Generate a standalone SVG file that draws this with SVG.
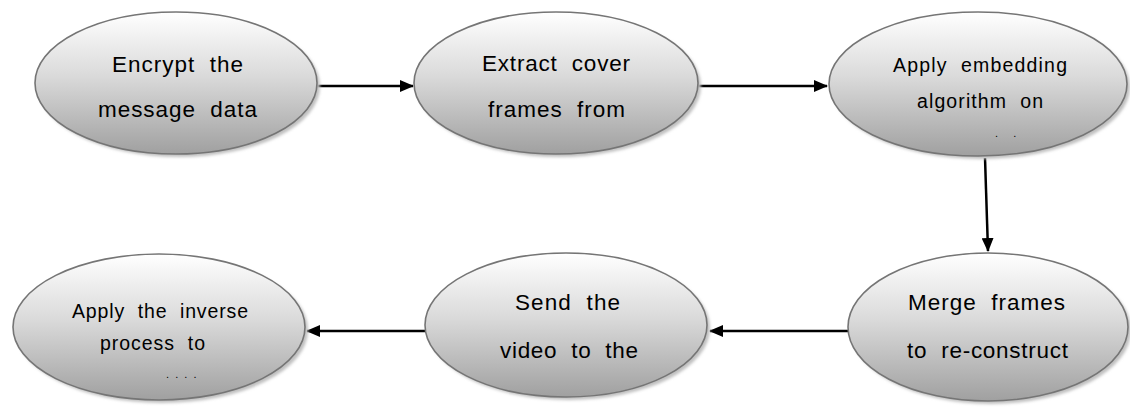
<svg xmlns="http://www.w3.org/2000/svg" width="1130" height="407" viewBox="0 0 1130 407">
  <defs>
    <linearGradient id="fillGrad" x1="0" y1="0" x2="0" y2="1">
      <stop offset="0" stop-color="#ffffff"/>
      <stop offset="0.45" stop-color="#dadada"/>
      <stop offset="1" stop-color="#a0a0a0"/>
    </linearGradient>
    <filter id="soft" x="-10%" y="-10%" width="120%" height="120%">
      <feGaussianBlur stdDeviation="1.5"/>
    </filter>
    <marker id="arrow" viewBox="0 0 14 12" refX="13" refY="6" markerWidth="14" markerHeight="12" markerUnits="userSpaceOnUse" orient="auto">
      <path d="M0,0 L14,6 L0,12 Z" fill="#000"/>
    </marker>
  </defs>
  <style>
    .shadow { fill: #c0c0c0; filter: url(#soft); }
    .shape { fill: url(#fillGrad); stroke: #757575; stroke-width: 1.6; }
    .lbl { font-family: "Liberation Sans", Arial, sans-serif; fill: #000; text-anchor: start; white-space: pre; }
    .big { font-size: 22.5px; }
    .small { font-size: 19.5px; }
    .dots { font-family: "Liberation Sans", Arial, sans-serif; font-size: 11px; fill: #000; white-space: pre; }
    .conn { stroke: #000; stroke-width: 2.5; fill: none; marker-end: url(#arrow); }
  </style>

  <!-- connectors -->
  <g id="connectors">
    <line class="conn" x1="317" y1="86" x2="413" y2="86"/>
    <line class="conn" x1="698" y1="86" x2="827" y2="86"/>
    <line class="conn" x1="985" y1="158" x2="988" y2="251"/>
    <line class="conn" x1="848" y1="331" x2="710" y2="331"/>
    <line class="conn" x1="426" y1="331" x2="307" y2="331"/>
  </g>

  <!-- step 1 -->
  <g id="encrypt">
    <ellipse class="shadow" cx="179" cy="86" rx="141" ry="71"/>
    <ellipse class="shape" cx="176" cy="83" rx="141" ry="71"/>
    <text class="lbl big" x="112" y="72" textLength="131" lengthAdjust="spacing" xml:space="preserve">Encrypt  the</text>
    <text class="lbl big" x="98" y="117" textLength="159" lengthAdjust="spacing" xml:space="preserve">message  data</text>
  </g>

  <!-- step 2 -->
  <g id="extract">
    <ellipse class="shadow" cx="559" cy="86" rx="142" ry="71"/>
    <ellipse class="shape" cx="556" cy="83" rx="142" ry="71"/>
    <text class="lbl big" x="482" y="71" textLength="148" lengthAdjust="spacing" xml:space="preserve">Extract  cover</text>
    <text class="lbl big" x="488" y="117" textLength="137" lengthAdjust="spacing" xml:space="preserve">frames  from</text>
  </g>

  <!-- step 3 -->
  <g id="embed">
    <ellipse class="shadow" cx="981" cy="87" rx="149" ry="72"/>
    <ellipse class="shape" cx="978" cy="84" rx="149" ry="72"/>
    <text class="lbl small" x="893" y="72" textLength="174" lengthAdjust="spacing" xml:space="preserve">Apply  embedding</text>
    <text class="lbl small" x="917" y="108" textLength="126" lengthAdjust="spacing" xml:space="preserve">algorithm  on</text>
    <text class="dots" x="995" y="137" xml:space="preserve">.     .</text>
  </g>

  <!-- step 4 -->
  <g id="merge">
    <ellipse class="shadow" cx="991" cy="330" rx="140" ry="74"/>
    <ellipse class="shape" cx="988" cy="327" rx="140" ry="74"/>
    <text class="lbl big" x="908" y="310" textLength="157" lengthAdjust="spacing" xml:space="preserve">Merge  frames</text>
    <text class="lbl big" x="907" y="358" textLength="161" lengthAdjust="spacing" xml:space="preserve">to  re-construct</text>
  </g>

  <!-- step 5 -->
  <g id="send">
    <ellipse class="shadow" cx="569" cy="328" rx="141" ry="72"/>
    <ellipse class="shape" cx="566" cy="325" rx="141" ry="72"/>
    <text class="lbl big" x="515" y="310" textLength="105" lengthAdjust="spacing" xml:space="preserve">Send  the</text>
    <text class="lbl big" x="500" y="358" textLength="138" lengthAdjust="spacing" xml:space="preserve">video  to  the</text>
  </g>

  <!-- step 6 -->
  <g id="inverse">
    <ellipse class="shadow" cx="162" cy="330" rx="146" ry="73"/>
    <ellipse class="shape" cx="159" cy="327" rx="146" ry="73"/>
    <text class="lbl small" x="72" y="318" textLength="176" lengthAdjust="spacing" xml:space="preserve">Apply  the  inverse</text>
    <text class="lbl small" x="100" y="350" textLength="105" lengthAdjust="spacing" xml:space="preserve">process  to</text>
    <text class="dots" x="166" y="378" xml:space="preserve">.  .  .  .</text>
  </g>
</svg>
